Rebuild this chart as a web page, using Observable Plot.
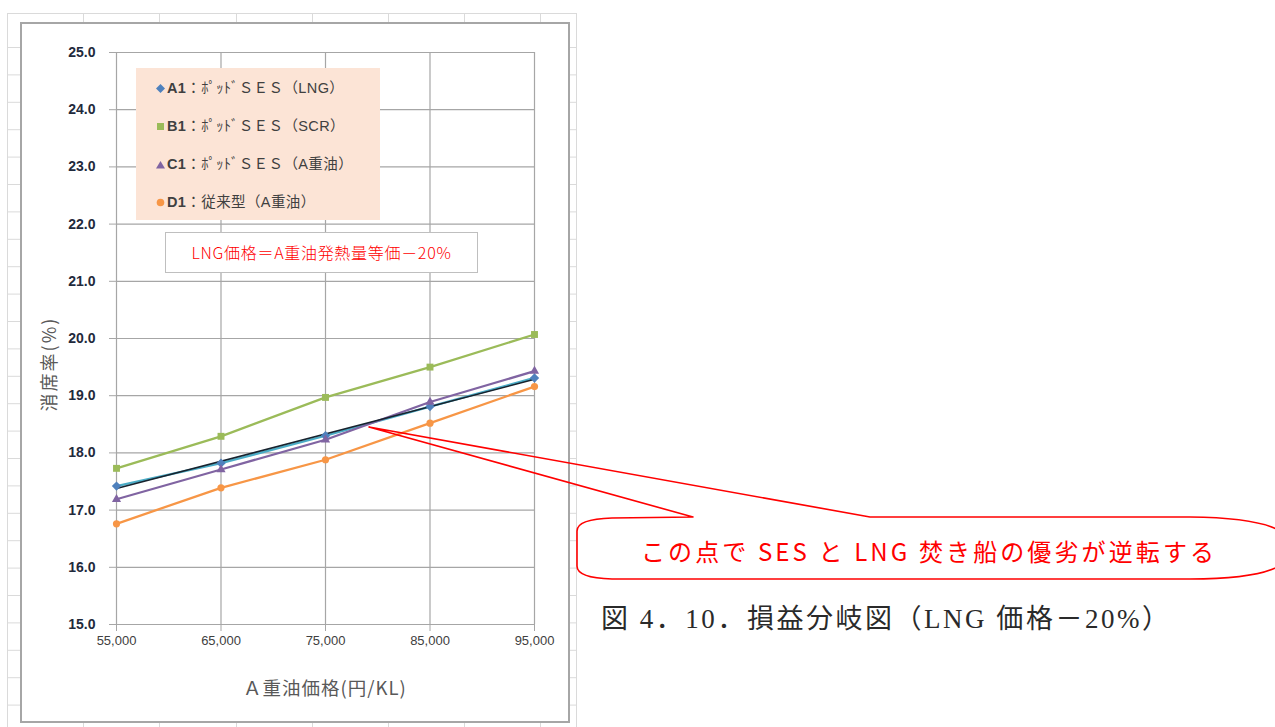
<!DOCTYPE html>
<html>
<head>
<meta charset="utf-8">
<script src="https://cdn.jsdelivr.net/npm/d3@7"></script>
<script src="https://cdn.jsdelivr.net/npm/@observablehq/plot@0.6"></script>
<style>
  html, body { margin: 0; padding: 0; background: #fff; }
  #page { position: relative; width: 1275px; height: 727px; overflow: hidden; background: #fff;
          font-family: "Liberation Sans", "Noto Sans CJK JP", sans-serif; }
  .abs { position: absolute; }
  #frame { left: 20px; top: 22px; width: 550px; height: 701px; box-sizing: border-box;
           border: 2px solid #a6a6a6; background: #fff; }
  #plotwrap { left: 0; top: 0; }
  #legend { left: 136px; top: 68px; width: 244px; height: 152px; background: #fce4d6; }
  .lg { position: absolute; left: 20px; font-size: 14.5px; color: #404040; white-space: nowrap; line-height: 16px; letter-spacing: 0.4px; }
  .lg svg { vertical-align: middle; margin-right: 2px; position: relative; top: -1px; }
  .lg b { font-weight: bold; }
  #note { left: 165px; top: 232px; width: 313px; height: 41px; box-sizing: border-box; border: 1px solid #bfbfbf;
          background: #fff; color: #ff0000; font-size: 16px; text-align: center; line-height: 39px; letter-spacing: 0.7px;
          font-family: "Noto Sans CJK JP", sans-serif; font-weight: 300; }
  .axtitle { color: #595959; white-space: nowrap; font-family: "Noto Sans CJK JP", sans-serif; }
  #xtitle { left: 125px; width: 400px; top: 674px; text-align: center; font-size: 18.5px; line-height: 26px; letter-spacing: 1px; }
  #ytitle { left: -152px; width: 400px; top: 351px; text-align: center; font-size: 18px; line-height: 26px; letter-spacing: 2px;
            transform: rotate(-90deg); transform-origin: 200px 13px; }
</style>
</head>
<body>
<div id="page">
  <svg id="cells" class="abs" style="left:0;top:0" width="600" height="727"></svg>
  <div id="frame" class="abs"></div>
  <div id="plotwrap" class="abs"></div>
  <div id="xtitle" class="abs axtitle"></div>
  <div id="ytitle" class="abs axtitle"></div>
  <div id="legend" class="abs"></div>
  <div id="note" class="abs"></div>
  <svg id="overlay" class="abs" style="left:0;top:0;pointer-events:none" width="1275" height="727"></svg>
</div>
<script>
// ---- data ----
const xValues = [55000, 65000, 75000, 85000, 95000];
const seriesNames = ["A1", "B1", "C1", "D1"];
const seriesLabels = [
  "：ﾎﾟｯﾄﾞＳＥＳ（LNG）",
  "：ﾎﾟｯﾄﾞＳＥＳ（SCR）",
  "：ﾎﾟｯﾄﾞＳＥＳ（A重油）",
  "：従来型（A重油）"
];
const a1Values = [17.42, 17.82, 18.30, 18.81, 19.31];
const b1Values = [17.73, 18.29, 18.97, 19.50, 20.07];
const c1Values = [17.19, 17.71, 18.23, 18.89, 19.43];
const d1Values = [16.76, 17.39, 17.88, 18.52, 19.16];
const yTicks = [15, 16, 17, 18, 19, 20, 21, 22, 23, 24, 25];
const xTicks = [55000, 65000, 75000, 85000, 95000];
const xTitle = "Ａ重油価格(円/KL)";
const yTitle = "消席率(%)";
const noteText = "LNG価格＝A重油発熱量等価－20%";
const calloutText = "この点で SES と LNG 焚き船の優劣が逆転する";
const captionText = "図 4．10．損益分岐図（LNG 価格－20%）";

const seriesColors = ["#4F81BD", "#9BBB59", "#8064A2", "#F79646"];
const lineColors = ["#4BACC6", "#9BBB59", "#8064A2", "#F79646"];
const symbols = ["diamond2", "square", "triangle", "circle"];
const symbolR = [4.2, 3.9, 3.4, 3.6];

const allValues = [a1Values, b1Values, c1Values, d1Values];
const rows = seriesNames.map((s, i) => xValues.map((x, j) => ({series: s, x, y: allValues[i][j]})));

// ---- excel cell background ----
(function () {
  const g = d3.select("#cells");
  const cols = [7.5, 83.5, 159.5, 236.5, 312.5, 388.5, 464.5, 540.5, 576.5];
  cols.forEach(x => g.append("line").attr("x1", x).attr("x2", x).attr("y1", 13).attr("y2", 727)
    .attr("stroke", "#dadada"));
  const rowsY = [13.5];
  for (let y = 47.5; y < 727; y += 27.4) rowsY.push(y);
  rowsY.forEach(y => g.append("line").attr("x1", 7).attr("x2", 577).attr("y1", y).attr("y2", y)
    .attr("stroke", "#dadada"));
})();

// ---- chart ----
const marks = [
  Plot.gridY(yTicks, {stroke: "#a6a6a6", strokeOpacity: 1, strokeWidth: 1.2}),
  Plot.gridX(xTicks, {stroke: "#a6a6a6", strokeOpacity: 1, strokeWidth: 1.2}),
  Plot.axisY(yTicks, {tickSize: 7, tickPadding: 14, tickFormat: d3.format(".1f"), stroke: "#a6a6a6",
    fill: "#1f2a3c", fontSize: 14, fontWeight: "bold", label: null}),
  Plot.axisX(xTicks, {tickSize: 7, tickPadding: 4, tickFormat: d3.format(","), stroke: "#a6a6a6",
    fill: "#404040", fontSize: 13, label: null})
];
rows.forEach((r, i) => {
  marks.push(Plot.line(r, {x: "x", y: "y", stroke: lineColors[i], strokeWidth: 2.3}));
});
marks.push(Plot.linearRegressionY(rows[0], {x: "x", y: "y", stroke: "#17232e", strokeWidth: 1.6, ci: 0}));
rows.forEach((r, i) => {
  marks.push(Plot.dot(r, {x: "x", y: "y", symbol: () => symbols[i], fill: seriesColors[i], stroke: "none", r: symbolR[i]}));
});

const chart = Plot.plot({
  width: 600,
  height: 727,
  marginLeft: 116,
  marginRight: 66,
  marginTop: 52,
  marginBottom: 103,
  x: {domain: [55000, 95000]},
  y: {domain: [15, 25]},
  symbol: {type: "identity"},
  style: {background: "transparent", fontFamily: "'Liberation Sans', 'Noto Sans CJK JP', sans-serif"},
  marks
});
document.getElementById("plotwrap").appendChild(chart);

document.getElementById("xtitle").textContent = xTitle;
document.getElementById("ytitle").textContent = yTitle;
document.getElementById("note").textContent = noteText;

// ---- legend ----
(function () {
  const lg = d3.select("#legend");
  const shapes = [
    '<svg width="9" height="9"><path d="M4.5,0 L9,4.5 L4.5,9 L0,4.5Z" fill="#4F81BD"/></svg>',
    '<svg width="9" height="9"><rect x="1" y="1" width="7" height="7" fill="#9BBB59"/></svg>',
    '<svg width="9" height="9"><path d="M4.5,1 L9,8.5 L0,8.5Z" fill="#8064A2"/></svg>',
    '<svg width="9" height="9"><circle cx="4.5" cy="4.5" r="3.8" fill="#F79646"/></svg>'
  ];
  seriesNames.forEach((s, i) => {
    lg.append("div").attr("class", "lg").style("top", (12 + i * 38) + "px")
      .html(shapes[i] + "<b>" + s + "</b>" + seriesLabels[i]);
  });
})();

// ---- callout + caption ----
(function () {
  const o = d3.select("#overlay");
  o.append("path")
    .attr("d", "M369,427 L870,517 L1190,517 Q1292,518 1292,548 Q1292,579 1190,579 L612,579 Q577,578 577,566 L577,531 Q577,519 612,518 L693,517 Z")
    .attr("fill", "none").attr("stroke", "#ff0000").attr("stroke-width", 1.6).attr("stroke-linejoin", "round");
  o.append("text").attr("x", 641).attr("y", 561).attr("textLength", 573).attr("lengthAdjust", "spacing")
    .attr("fill", "#ff0000").attr("font-size", 24).attr("font-family", "'Noto Sans CJK JP', sans-serif")
    .text(calloutText);
  o.append("text").attr("x", 601).attr("y", 628).attr("textLength", 568).attr("lengthAdjust", "spacing")
    .attr("fill", "#2a2a2a").attr("font-size", 27).attr("font-family", "'Liberation Serif', 'Noto Sans CJK JP', serif")
    .text(captionText);
})();
</script>
</body>
</html>
